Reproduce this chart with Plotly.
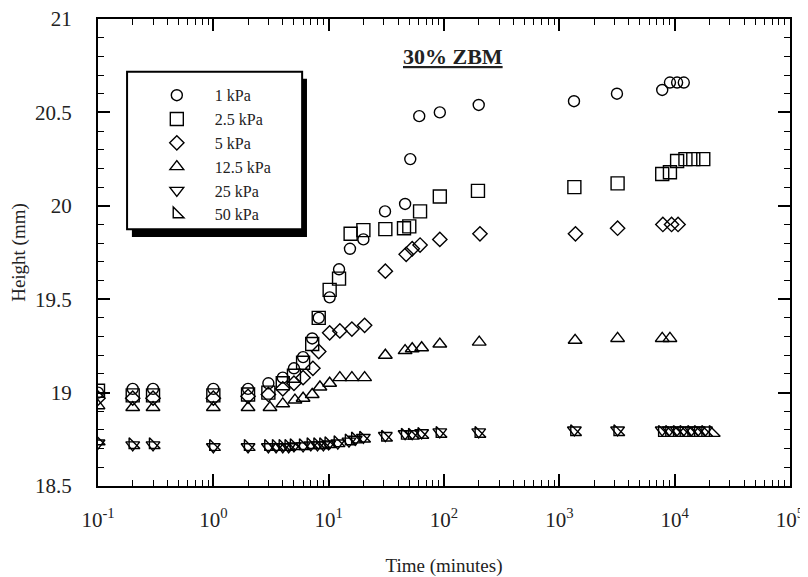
import plotly.graph_objects as go

FONT = "Liberation Serif"

# ---- data ----
t_1kpa = [0.1, 0.2, 0.3, 1, 2, 3, 4, 5, 6, 7.2, 8.2, 10.2, 12.3, 15.3, 20, 30.8, 46, 51, 61, 92, 200,
          1340, 3160, 7800, 9100, 10500, 12000]
h_1kpa = [19.00, 19.02, 19.02, 19.02, 19.02, 19.05, 19.08, 19.13, 19.19, 19.29, 19.40, 19.51, 19.66, 19.77,
          19.82, 19.97, 20.01, 20.25, 20.48, 20.50, 20.54, 20.56, 20.60, 20.62, 20.66, 20.66, 20.66]

t_2p5kpa = [0.1, 0.2, 0.3, 1, 2, 3, 4, 5, 6, 7.2, 8.2, 10.2, 12.3, 15.5, 20, 31, 45, 50, 62, 92, 197,
            1350, 3200, 7800, 9100, 10500, 12400, 14500, 17700]
h_2p5kpa = [19.01, 18.985, 18.985, 18.985, 18.99, 19.00, 19.05, 19.09, 19.16, 19.26, 19.40, 19.55, 19.61,
            19.85, 19.87, 19.875, 19.88, 19.89, 19.97, 20.05, 20.08, 20.10, 20.12, 20.17, 20.18, 20.24,
            20.25, 20.25, 20.25]

t_5kpa = [0.1, 0.2, 0.3, 1, 2, 3, 4, 5, 6, 7.3, 8.2, 10.2, 12.5, 15.9, 20.5, 31, 47, 53, 62, 92, 205,
          1380, 3200, 7900, 9400, 10700]
h_5kpa = [18.97, 18.97, 18.97, 18.97, 18.98, 18.99, 19.02, 19.05, 19.08, 19.13, 19.22, 19.32, 19.33, 19.34,
          19.36, 19.65, 19.74, 19.77, 19.79, 19.82, 19.85, 19.85, 19.88, 19.90, 19.90, 19.90]

t_12p5kpa = [0.1, 0.2, 0.3, 1, 2, 3.1, 4, 5.1, 6, 7.2, 8.4, 10.2, 12.5, 15.9, 20.5, 31, 46, 53, 64, 92,
             202, 1370, 3200, 7800, 9100]
h_12p5kpa = [18.93, 18.92, 18.92, 18.92, 18.92, 18.92, 18.94, 18.96, 18.97, 18.99, 19.03, 19.05, 19.08,
             19.08, 19.08, 19.20, 19.225, 19.235, 19.24, 19.26, 19.27, 19.28, 19.29, 19.29, 19.29]

t_25kpa = [0.1, 0.2, 0.3, 1, 2, 3, 3.5, 4, 4.5, 5, 6, 7, 8, 9, 10, 12, 15, 17, 20, 31, 46, 53, 64, 92,
           200, 1350, 3200, 7800, 9000, 10500, 12000, 14000, 16000, 18500]
h_25kpa = [18.73, 18.72, 18.72, 18.71, 18.71, 18.71, 18.71, 18.71, 18.71, 18.715, 18.715, 18.72, 18.72,
           18.72, 18.725, 18.73, 18.74, 18.75, 18.76, 18.77, 18.78, 18.78, 18.785, 18.79, 18.79, 18.80,
           18.80, 18.80, 18.80, 18.80, 18.80, 18.80, 18.80, 18.80]

t_50kpa = [0.1, 0.2, 0.3, 1, 2, 3, 3.5, 4, 4.5, 5, 6, 7, 8, 9, 10, 12, 15, 17, 20, 31, 46, 53, 64, 92,
           200, 1350, 3200, 7800, 9000, 10500, 12000, 14000, 16000, 18500, 21500]
h_50kpa = [18.74, 18.72, 18.72, 18.71, 18.71, 18.71, 18.71, 18.71, 18.71, 18.715, 18.715, 18.72, 18.72,
           18.72, 18.725, 18.73, 18.74, 18.75, 18.755, 18.76, 18.77, 18.77, 18.775, 18.78, 18.78, 18.79,
           18.79, 18.785, 18.785, 18.785, 18.785, 18.785, 18.785, 18.785, 18.785]

series_names = ["1 kPa", "2.5 kPa", "5 kPa", "12.5 kPa", "25 kPa", "50 kPa"]
series_t = [t_1kpa, t_2p5kpa, t_5kpa, t_12p5kpa, t_25kpa, t_50kpa]
series_h = [h_1kpa, h_2p5kpa, h_5kpa, h_12p5kpa, h_25kpa, h_50kpa]
series_symbols = ["circle-open", "square-open", "diamond-open", "triangle-up-open",
                  "triangle-down-open", "triangle-sw-open"]
series_sizes = [11, 13, 11, 12, 12, 12]

x_tickvals = [0.1, 1, 10, 100, 1000, 10000, 100000]
x_ticktext = ["10<sup>-1</sup>", "10<sup>0</sup>", "10<sup>1</sup>", "10<sup>2</sup>",
              "10<sup>3</sup>", "10<sup>4</sup>", "10<sup>5</sup>"]
y_tickvals = [18.5, 19, 19.5, 20, 20.5, 21]
y_ticktext = ["18.5", "19", "19.5", "20", "20.5", "21"]

title_text = "30% ZBM"
x_title = "Time (minutes)"
y_title = "Height (mm)"

# ---- figure ----
fig = go.Figure()
for name, tt, hh, sym, sz in zip(series_names, series_t, series_h, series_symbols, series_sizes):
    fig.add_trace(go.Scatter(
        x=tt, y=hh, mode="markers", name=name,
        marker=dict(symbol=sym, size=sz, color="black", line=dict(color="black", width=1.4)),
    ))

minor_x = [m * 10 ** k for k in range(-1, 5) for m in range(2, 10)]

fig.update_xaxes(
    type="log", range=[-1, 5], automargin=False, ticklabeloverflow="allow",
    tickmode="array", tickvals=x_tickvals, ticktext=x_ticktext,
    ticks="inside", ticklen=12, tickwidth=1.5, tickcolor="black",
    minor=dict(tickmode="array", tickvals=minor_x, ticks="inside", ticklen=6,
               tickwidth=1.2, tickcolor="black", showgrid=False),
    showline=True, linecolor="black", linewidth=2, mirror="allticks",
    showgrid=False, zeroline=False,
    tickfont=dict(family=FONT, size=21, color="#222"),
    ticklabelstandoff=14,
    title=dict(text=x_title, font=dict(family=FONT, size=19, color="#222"), standoff=28),
)
fig.update_yaxes(
    range=[18.5, 21], automargin=False, ticklabeloverflow="allow",
    tickmode="array", tickvals=y_tickvals, ticktext=y_ticktext,
    ticks="inside", ticklen=12, tickwidth=1.5, tickcolor="black",
    minor=dict(dtick=0.1, tick0=18.5, ticks="inside", ticklen=6, tickwidth=1.2,
               tickcolor="black", showgrid=False),
    showline=True, linecolor="black", linewidth=2, mirror="allticks",
    showgrid=False, zeroline=False,
    tickfont=dict(family=FONT, size=21, color="#222"),
    ticklabelstandoff=20,
    title=dict(text=y_title, font=dict(family=FONT, size=19, color="#222"), standoff=4),
)

# legend frame with drop shadow (paper coordinates)
fig.add_shape(type="rect", xref="paper", yref="paper",
              x0=0.049, x1=0.302, y0=0.533, y1=0.872,
              fillcolor="black", line=dict(width=0), layer="above")
fig.add_shape(type="rect", xref="paper", yref="paper",
              x0=0.042, x1=0.295, y0=0.550, y1=0.887,
              fillcolor="white", line=dict(color="black", width=2), layer="above")

fig.add_annotation(text="<b><u>" + title_text + "</u></b>", xref="paper", yref="paper",
                   x=0.513, y=0.919, xanchor="center", yanchor="middle", showarrow=False,
                   font=dict(family=FONT, size=22, color="#222"))

fig.update_layout(
    width=800, height=569,
    margin=dict(l=90, r=18, t=11, b=91),
    paper_bgcolor="white", plot_bgcolor="white",
    showlegend=True,
    legend=dict(x=0.059, y=0.873, xanchor="left", yanchor="top",
                bgcolor="rgba(0,0,0,0)", borderwidth=0, itemwidth=66,
                font=dict(family=FONT, size=16, color="#222")),
)

fig.write_html("out.html")
